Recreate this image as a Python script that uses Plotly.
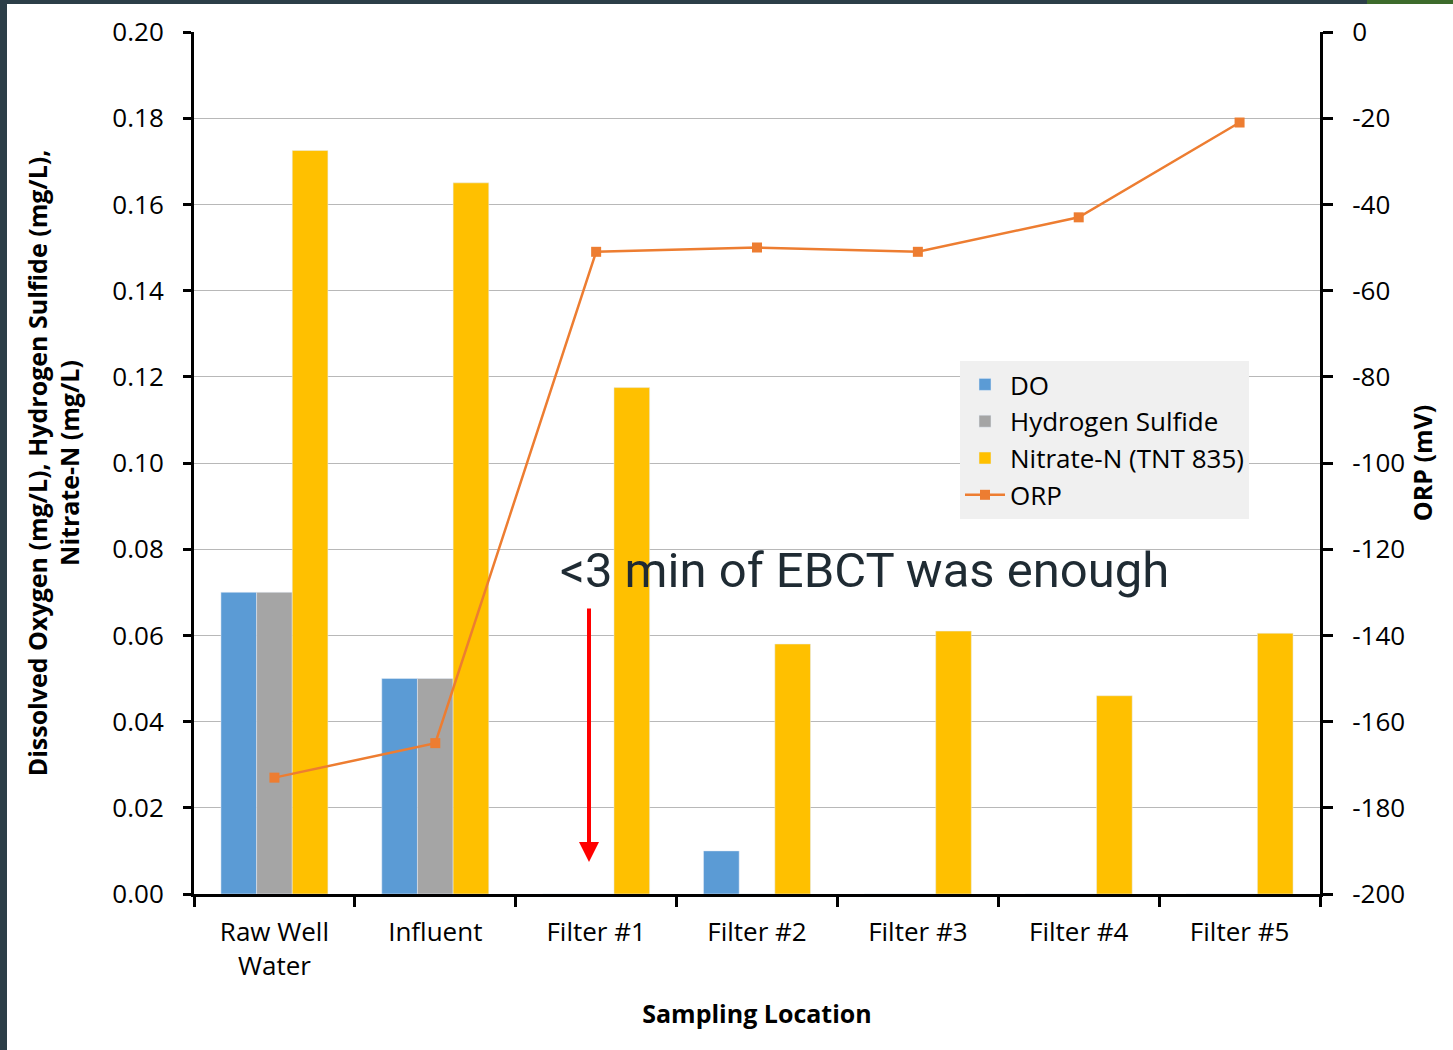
import plotly.graph_objects as go

locations = ["Raw Well<br>Water", "Influent", "Filter #1", "Filter #2", "Filter #3", "Filter #4", "Filter #5"]
do_vals = [0.07, 0.05, 0.0, 0.01, 0.0, 0.0, 0.0]
h2s_vals = [0.07, 0.05, 0.0, 0.0, 0.0, 0.0, 0.0]
nitrate_vals = [0.1725, 0.165, 0.1175, 0.058, 0.061, 0.046, 0.0605]
orp_vals = [-173, -165, -51, -50, -51, -43, -21]
orp_ticks = [0, -20, -40, -60, -80, -100, -120, -140, -160, -180, -200]
orp_ticklabels = [str(v) for v in orp_ticks]

FONT = "Open Sans"
W, H = 1453, 1050
L, R, T, B = 194, 133, 32, 156
PW, PH = W - L - R, H - T - B

def px(x):
    return (x - L) / PW

def py(y):
    return (H - B - y) / PH

fig = go.Figure()
fig.add_trace(go.Bar(x=locations, y=do_vals, name="DO", marker_color="#5B9BD5"))
fig.add_trace(go.Bar(x=locations, y=h2s_vals, name="Hydrogen Sulfide", marker_color="#A5A5A5"))
fig.add_trace(go.Bar(x=locations, y=nitrate_vals, name="Nitrate-N (TNT 835)", marker_color="#FFC000"))
fig.add_trace(go.Scatter(x=locations, y=orp_vals, name="ORP", yaxis="y2", mode="lines+markers",
                         line=dict(color="#ED7D31", width=2.5),
                         marker=dict(symbol="square", size=10, color="#ED7D31")))

fig.update_layout(
    width=W, height=H,
    margin=dict(l=L, r=R, t=T, b=B),
    paper_bgcolor="white", plot_bgcolor="white",
    font=dict(family=FONT, size=26, color="black"),
    barmode="group", bargap=0.335, bargroupgap=0,
    showlegend=True,
    legend=dict(x=px(960), y=py(361), xanchor="left", yanchor="top",
                bgcolor="#F0F0F0", font=dict(size=26, family=FONT),
                tracegroupgap=0, itemwidth=40, borderwidth=0),
    xaxis=dict(
        range=[-0.5, 6.5], showline=True, linecolor="black", linewidth=3,
        ticks="outside", tickson="boundaries", ticklen=10, tickwidth=3, tickcolor="black",
        tickfont=dict(size=26), showgrid=False, ticklabelstandoff=13,
        title=dict(text="<b>Sampling Location</b>", font=dict(size=25), standoff=24),
    ),
    yaxis=dict(
        range=[0, 0.2], dtick=0.02, tickformat=".2f", showline=True, linecolor="black", linewidth=3,
        ticks="outside", ticklen=8, tickwidth=3, tickcolor="black", ticklabelstandoff=14,
        showgrid=True, gridcolor="#B8B8B8", gridwidth=1, zeroline=False,
        tickfont=dict(size=26),
        title=dict(text="<b>Dissolved Oxygen (mg/L), Hydrogen Sulfide (mg/L),<br>Nitrate-N (mg/L)</b>",
                   font=dict(size=25), standoff=26),
    ),
    yaxis2=dict(
        range=[-200, 0], tickvals=orp_ticks, ticktext=orp_ticklabels, overlaying="y", side="right",
        showline=True, linecolor="black",
        linewidth=3, ticks="outside", ticklen=10, tickwidth=3, tickcolor="black", ticklabelstandoff=14,
        showgrid=False, zeroline=False, tickfont=dict(size=26),
        title=dict(text="<b>ORP (mV)</b>", font=dict(size=25), standoff=10),
    ),
)

fig.add_annotation(xref="paper", yref="paper", x=px(558), y=py(570), xanchor="left", yanchor="middle",
                   text="&lt;3 min of EBCT was enough", showarrow=False,
                   font=dict(family="Roboto", size=49, color="#1F2B33"))

fig.add_annotation(xref="paper", yref="paper", x=px(589), y=py(862), ax=0, ay=-255,
                   axref="pixel", ayref="pixel", text="", showarrow=True,
                   arrowhead=2, arrowsize=1, arrowwidth=4, arrowcolor="#FF0000")

# page frame strips
fig.add_shape(type="rect", xref="paper", yref="paper", x0=px(0), x1=px(7), y0=py(H), y1=py(0),
              fillcolor="#2C3E48", line_width=0, layer="above")
fig.add_shape(type="rect", xref="paper", yref="paper", x0=px(0), x1=px(1367), y0=py(4), y1=py(0),
              fillcolor="#2C3E48", line_width=0, layer="above")
fig.add_shape(type="rect", xref="paper", yref="paper", x0=px(1367), x1=px(W), y0=py(4), y1=py(0),
              fillcolor="#3D6B2B", line_width=0, layer="above")

fig.write_html("out.html", config={"displayModeBar": False},
               post_script="document.body.style.margin='0';document.body.style.padding='0';")
